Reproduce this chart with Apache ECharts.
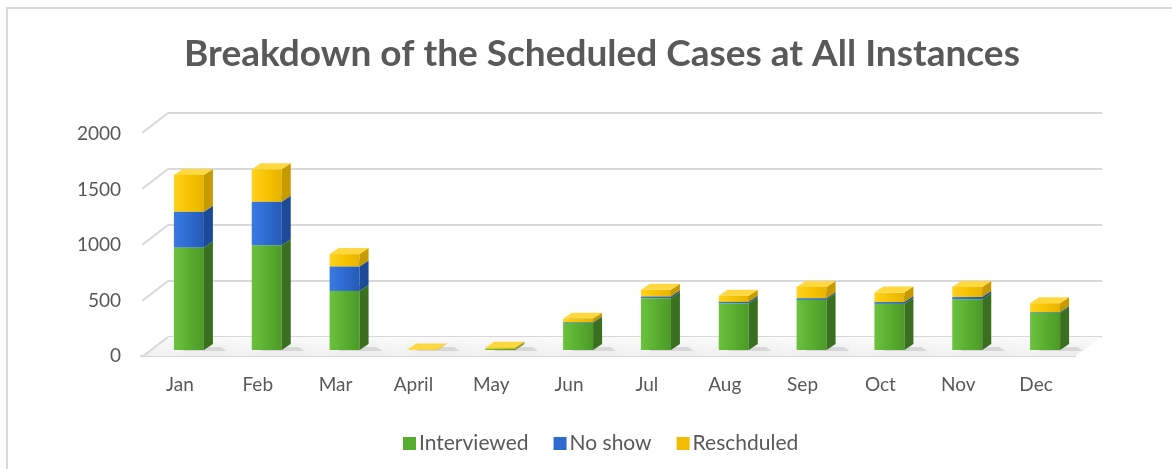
<!DOCTYPE html>
<html>
<head>
<meta charset="utf-8">
<script src="https://cdn.jsdelivr.net/npm/echarts@6/dist/echarts.min.js"></script>
<style>
  html, body { margin: 0; padding: 0; background: #fff; }
  #chart { width: 1172px; height: 469px; }
</style>
</head>
<body>
<div id="chart"></div>
<script>
const categories = ["Jan", "Feb", "Mar", "April", "May", "Jun", "Jul", "Aug", "Sep", "Oct", "Nov", "Dec"];
const interviewed = [920, 940, 530, 0, 10, 245, 465, 420, 450, 415, 455, 335];
const noShow = [320, 390, 220, 0, 0, 5, 15, 12, 15, 15, 20, 5];
const rescheduled = [330, 290, 110, 5, 10, 30, 60, 55, 100, 85, 90, 80];
const yTicks = [0, 500, 1000, 1500, 2000];

const FONT = "Lato";
const TXT = "#595959";
const LINE = "#d9d9d9";

// colours for front / side / top of each box
const palette = [
  { front: ["#6cc23e", "#5aae30", "#4c9a28"], side: "#3a6f1f", top: "#7fd04f", legend: "#58ad31" },
  { front: ["#3a7ae0", "#2e6bd0", "#2659b5"], side: "#1d4a98", top: "#5b93ec", legend: "#2e6bd0" },
  { front: ["#ffd21f", "#f7c200", "#e8b300"], side: "#c79a00", top: "#ffd83f", legend: "#f2bd00" }
];

// build stacked ranges [index, low, high]
function ranges(vals, bases) {
  return vals.map((v, i) => [i, bases[i], bases[i] + v]);
}
const base0 = categories.map(() => 0);
const base1 = interviewed.slice();
const base2 = interviewed.map((v, i) => v + noShow[i]);

const DX = 9, DY = 6, W = 30, SHIFT = -6;

function renderBox(params, api) {
  const p = palette[params.seriesIndex - 2];
  const i = api.value(0), lo = api.value(1), hi = api.value(2);
  const a = api.coord([i, lo]);
  const b = api.coord([i, hi]);
  const x0 = a[0] + SHIFT, x1 = x0 + W, yb = a[1], yt = b[1];
  const kids = [];
  if (params.seriesIndex === 2) {
    // soft shadow on floor
    kids.push({
      type: "polygon",
      shape: { points: [[x0 + 6, yb - 3], [x1 + DX + 8, yb - 3], [x1 + DX + 14, yb + 1], [x0 + 10, yb + 1]] },
      style: { fill: "rgba(0,0,0,0.10)", shadowBlur: 10, shadowColor: "rgba(0,0,0,0.45)" },
      silent: true
    });
  }
  if (hi - lo <= 0) return { type: "group", children: kids };
  kids.push({
    type: "rect",
    shape: { x: x0, y: yt, width: W, height: Math.max(yb - yt, 0.6) },
    style: {
      fill: new echarts.graphic.LinearGradient(0, 0, 1, 0, [
        { offset: 0, color: p.front[0] },
        { offset: 0.5, color: p.front[1] },
        { offset: 1, color: p.front[2] }
      ])
    }
  });
  kids.push({
    type: "polygon",
    shape: { points: [[x1, yb], [x1 + DX, yb - DY], [x1 + DX, yt - DY], [x1, yt]] },
    style: { fill: p.side }
  });
  kids.push({
    type: "polygon",
    shape: { points: [[x0, yt], [x1, yt], [x1 + DX, yt - DY], [x0 + DX, yt - DY]] },
    style: { fill: p.top }
  });
  return { type: "group", children: kids };
}

const chart = echarts.init(document.getElementById("chart"));
const option = {
  animation: false,
  title: {
    text: "Breakdown of the Scheduled Cases at All Instances",
    left: 597,
    top: 31,
    textAlign: "center",
    textStyle: { fontFamily: FONT, fontWeight: "bold", fontSize: 37, color: TXT }
  },
  legend: {
    data: ["Interviewed", "No show", "Reschduled"],
    left: 398,
    top: 428,
    icon: "rect",
    itemWidth: 13,
    itemHeight: 13,
    itemGap: 25,
    textStyle: { fontFamily: FONT, fontSize: 21, color: TXT, padding: [0, 0, 0, -2] }
  },
  graphic: [{
    type: "rect",
    shape: { x: 7, y: 8, width: 1300, height: 600 },
    style: { fill: "none", stroke: LINE, lineWidth: 2 },
    silent: true
  }],
  grid: [
    { left: 141, right: 97, top: 134, bottom: 113 },   // front plane: labels
    { left: 168, right: 70, top: 113, bottom: 132 },   // back wall
    { left: 141, right: 97, top: 127, bottom: 119 }    // bars
  ],
  xAxis: [
    {
      gridIndex: 0, type: "category", data: categories,
      axisLine: { show: true, lineStyle: { color: LINE, width: 2 } },
      axisTick: { show: false },
      axisLabel: { fontFamily: FONT, fontSize: 19, color: TXT, margin: 19 }
    },
    { gridIndex: 1, type: "value", min: 0, max: 1, show: false },
    { gridIndex: 2, type: "category", data: categories, show: false }
  ],
  yAxis: [
    {
      gridIndex: 0, type: "value", min: 0, max: 2000, interval: 500,
      axisLine: { show: false }, axisTick: { show: false }, splitLine: { show: false },
      axisLabel: { fontFamily: FONT, fontSize: 19, color: TXT, margin: 20, formatter: v => String(v) }
    },
    {
      gridIndex: 1, type: "value", min: 0, max: 2000, interval: 500,
      axisLine: { show: false }, axisTick: { show: false }, axisLabel: { show: false },
      splitLine: { show: true, lineStyle: { color: LINE, width: 2 } }
    },
    { gridIndex: 2, type: "value", min: 0, max: 2000, interval: 500, show: false }
  ],
  series: [
    {
      // floor
      type: "custom", xAxisIndex: 1, yAxisIndex: 1, silent: true, z: 1,
      data: [[0, 0]],
      renderItem: (params, api) => {
        const l = api.coord([0, 0]), r = api.coord([1, 0]);
        return {
          type: "polygon",
          shape: { points: [l, r, [r[0] - 27, r[1] + 19], [l[0] - 26, l[1] + 19]] },
          style: {
            fill: new echarts.graphic.LinearGradient(0, 0, 0, 1, [
              { offset: 0, color: "#fbfbfb" },
              { offset: 1, color: "#f0f0f0" }
            ])
          }
        };
      }
    },
    {
      // side wall diagonals
      type: "custom", xAxisIndex: 1, yAxisIndex: 1, silent: true, z: 2,
      data: yTicks.map(v => [0, v]),
      renderItem: (params, api) => {
        const p = api.coord([0, api.value(1)]);
        return {
          type: "line",
          shape: { x1: p[0], y1: p[1], x2: p[0] - 26, y2: p[1] + 20 },
          style: { stroke: LINE, lineWidth: 2 }
        };
      }
    },
    {
      name: "Interviewed", type: "custom", xAxisIndex: 2, yAxisIndex: 2, z: 5,
      itemStyle: { color: palette[0].legend },
      encode: { x: 0, y: 2 },
      data: ranges(interviewed, base0), renderItem: renderBox
    },
    {
      name: "No show", type: "custom", xAxisIndex: 2, yAxisIndex: 2, z: 6,
      itemStyle: { color: palette[1].legend },
      encode: { x: 0, y: 2 },
      data: ranges(noShow, base1), renderItem: renderBox
    },
    {
      name: "Reschduled", type: "custom", xAxisIndex: 2, yAxisIndex: 2, z: 7,
      itemStyle: { color: palette[2].legend },
      encode: { x: 0, y: 2 },
      data: ranges(rescheduled, base2), renderItem: renderBox
    }
  ]
};
chart.setOption(option);
</script>
</body>
</html>
